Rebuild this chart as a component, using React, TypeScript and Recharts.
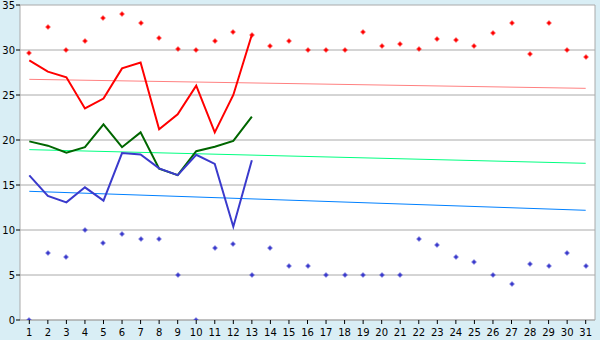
import React from 'react';
import { LineChart, Line, XAxis, YAxis, CartesianGrid } from 'recharts';

const days = ['1','2','3','4','5','6','7','8','9','10','11','12','13','14','15','16','17','18','19','20','21','22','23','24','25','26','27','28','29','30','31'];
const maxPoints = [29.7, 32.5, 30, 31, 33.5, 34, 33, 31.3, 30.1, 30, 31, 32, 31.7, 30.5, 31, 30, 30, 30, 32, 30.5, 30.7, 30.1, 31.2, 31.1, 30.5, 31.85, 33, 29.6, 33, 30, 29.2];
const minPoints = [0, 7.5, 7, 10, 8.6, 9.6, 9, 9, 5, 0, 8, 8.5, 5, 8, 6, 6, 5, 5, 5, 5, 5, 9, 8.3, 7, 6.5, 5, 4, 6.2, 6, 7.5, 6];
const highLine = [28.85, 27.6, 26.96, 23.5, 24.6, 27.96, 28.6, 21.2, 22.85, 26.03, 20.85, 25, 31.7];
const meanLine = [19.85, 19.37, 18.6, 19.2, 21.74, 19.2, 20.85, 16.8, 16.1, 18.75, 19.25, 19.9, 22.6];
const lowLine = [16.07, 13.78, 13.07, 14.74, 13.26, 18.55, 18.4, 16.85, 16.1, 18.35, 17.35, 10.37, 17.74];
const highTrend = [26.74, 25.74];
const meanTrend = [18.93, 17.41];
const lowTrend = [14.3, 12.19];
const yTicks = [0, 5, 10, 15, 20, 25, 30, 35];

const data = days.map((d, i) => ({
  day: d,
  max: maxPoints[i],
  min: minPoints[i],
  high: i < highLine.length ? highLine[i] : null,
  mean: i < meanLine.length ? meanLine[i] : null,
  low: i < lowLine.length ? lowLine[i] : null,
  hT: i === 0 ? highTrend[0] : i === days.length - 1 ? highTrend[1] : null,
  mT: i === 0 ? meanTrend[0] : i === days.length - 1 ? meanTrend[1] : null,
  lT: i === 0 ? lowTrend[0] : i === days.length - 1 ? lowTrend[1] : null,
}));

const makeDot = (color: string) => (props: any) => {
  const { cx, cy, index } = props;
  if (cx == null || cy == null) return <g key={index} />;
  const x = Math.round(cx) - 2.5;
  const y = Math.round(cy) - 2.5;
  const d = `M${x + 2},${y}h1v1h1v1h1v1h-1v1h-1v1h-1v-1h-1v-1h-1v-1h1v-1h1z`;
  return <path key={index} d={d} fill={color} stroke="none" />;
};

const font = { fontFamily: 'DejaVu Sans', fontSize: 10, fill: '#000' };

export default function App() {
  return (
    <div style={{ position: 'absolute', left: 0, top: 0, width: 600, height: 340, background: '#d9eef5' }}>
      <LineChart width={600} height={340} data={data} margin={{ top: 5, right: 5, bottom: 0, left: 0 }}>
        <CartesianGrid
          horizontal
          vertical
          verticalPoints={[595]}
          stroke="#aaaaaa"
          strokeWidth={1}
          fill="#ffffff"
          fillOpacity={1}
        />
        <XAxis
          dataKey="day"
          height={20}
          padding={{ left: 9.3, right: 9.3 }}
          interval={0}
          tickSize={4}
          tickMargin={5}
          tick={font}
          axisLine={{ stroke: '#aaaaaa' }}
          tickLine={{ stroke: '#000' }}
        />
        <YAxis
          width={20}
          domain={[0, 35]}
          ticks={yTicks}
          interval={0}
          tickSize={4}
          tickMargin={1}
          tick={font}
          axisLine={{ stroke: '#aaaaaa' }}
          tickLine={{ stroke: '#000' }}
          allowDataOverflow
        />
        <Line dataKey="hT" stroke="#ff8080" strokeWidth={1} dot={false} connectNulls isAnimationActive={false} />
        <Line dataKey="mT" stroke="#00ff80" strokeWidth={1} dot={false} connectNulls isAnimationActive={false} />
        <Line dataKey="lT" stroke="#0080ff" strokeWidth={1} dot={false} connectNulls isAnimationActive={false} />
        <Line dataKey="high" stroke="#ff0000" strokeWidth={2} dot={false} isAnimationActive={false} />
        <Line dataKey="mean" stroke="#006600" strokeWidth={2} dot={false} isAnimationActive={false} />
        <Line dataKey="low" stroke="#3a3acc" strokeWidth={2} dot={false} isAnimationActive={false} />
        <Line dataKey="max" stroke="none" dot={makeDot('#ff0000')} activeDot={false} isAnimationActive={false} />
        <Line dataKey="min" stroke="none" dot={makeDot('#3a3acc')} activeDot={false} isAnimationActive={false} />
      </LineChart>
    </div>
  );
}
